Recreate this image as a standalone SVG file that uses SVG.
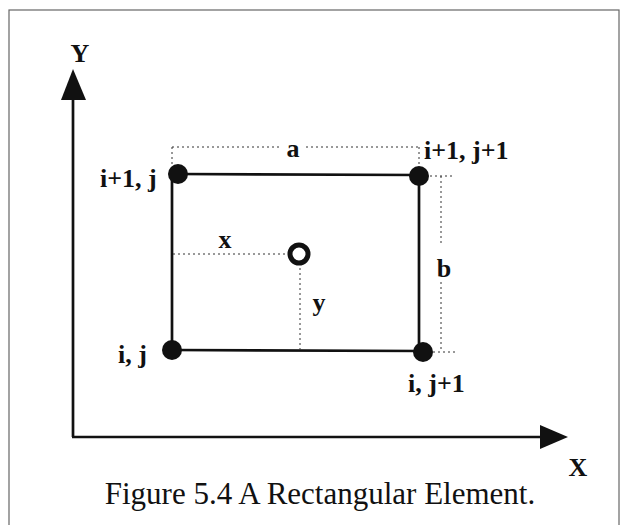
<svg xmlns="http://www.w3.org/2000/svg" width="623" height="525" viewBox="0 0 623 525">
<defs>
<style>
.lbl{font-family:"Liberation Serif","Times New Roman",serif;font-weight:bold;font-size:26px;fill:#111}
.ttl{font-family:"Liberation Serif","Times New Roman",serif;font-size:31px;fill:#111}
.solid{stroke:#111;stroke-width:2.7;fill:none}
.dot{stroke:#333;stroke-width:1;stroke-dasharray:2 3;fill:none}
.node{fill:#111}
</style>
</defs>
<rect x="9" y="10" width="610" height="530" fill="#fff" stroke="#666" stroke-width="1.2"/>
<g id="connectors">
<line class="solid" x1="73" y1="98" x2="73" y2="437"/>
<line class="solid" x1="72" y1="437" x2="542" y2="437"/>
<polygon points="73,69 61,100 86,100" fill="#111"/>
<polygon points="568,437 540,425 540,449" fill="#111"/>
<line class="solid" x1="178" y1="174" x2="419" y2="175"/>
<line class="solid" x1="172" y1="174" x2="172" y2="350"/>
<line class="solid" x1="419" y1="175" x2="419" y2="351"/>
<line class="solid" x1="172" y1="350" x2="423" y2="351"/>
<line class="dot" x1="172" y1="147" x2="172" y2="165"/>
<line class="dot" x1="419" y1="147" x2="419" y2="166"/>
<line class="dot" x1="172" y1="147" x2="280" y2="147"/>
<line class="dot" x1="306" y1="147" x2="419" y2="147"/>
<line class="dot" x1="430" y1="176" x2="452" y2="176"/>
<line class="dot" x1="433" y1="352" x2="458" y2="352"/>
<line class="dot" x1="441" y1="176" x2="441" y2="246"/>
<line class="dot" x1="441" y1="282" x2="441" y2="352"/>
<line class="dot" x1="173" y1="254" x2="287" y2="254"/>
<line class="dot" x1="300" y1="268" x2="300" y2="350"/>
</g>
<g id="axis-y"><text class="lbl" x="80" y="62" text-anchor="middle" font-size="27">Y</text></g>
<g id="axis-x"><text class="lbl" x="578" y="476" text-anchor="middle" font-size="27">X</text></g>
<g id="node-i1j"><circle class="node" cx="178" cy="174" r="10"/><text class="lbl" x="100" y="187">i+1, j</text></g>
<g id="node-i1j1"><circle class="node" cx="419" cy="176" r="10"/><text class="lbl" x="424" y="159">i+1, j+1</text></g>
<g id="node-ij"><circle class="node" cx="172" cy="350" r="10"/><text class="lbl" x="118" y="363">i, j</text></g>
<g id="node-ij1"><circle class="node" cx="423" cy="352" r="10"/><text class="lbl" x="408" y="392">i, j+1</text></g>
<g id="point"><circle cx="299" cy="254" r="9" fill="#fff" stroke="#111" stroke-width="5"/></g>
<g id="dims">
<text class="lbl" x="293" y="157" text-anchor="middle">a</text>
<text class="lbl" x="444" y="277" text-anchor="middle">b</text>
<text class="lbl" x="225" y="248" text-anchor="middle">x</text>
<text class="lbl" x="319" y="311" text-anchor="middle">y</text>
</g>
<text class="ttl" x="320" y="504" text-anchor="middle">Figure 5.4 A Rectangular Element.</text>
</svg>
